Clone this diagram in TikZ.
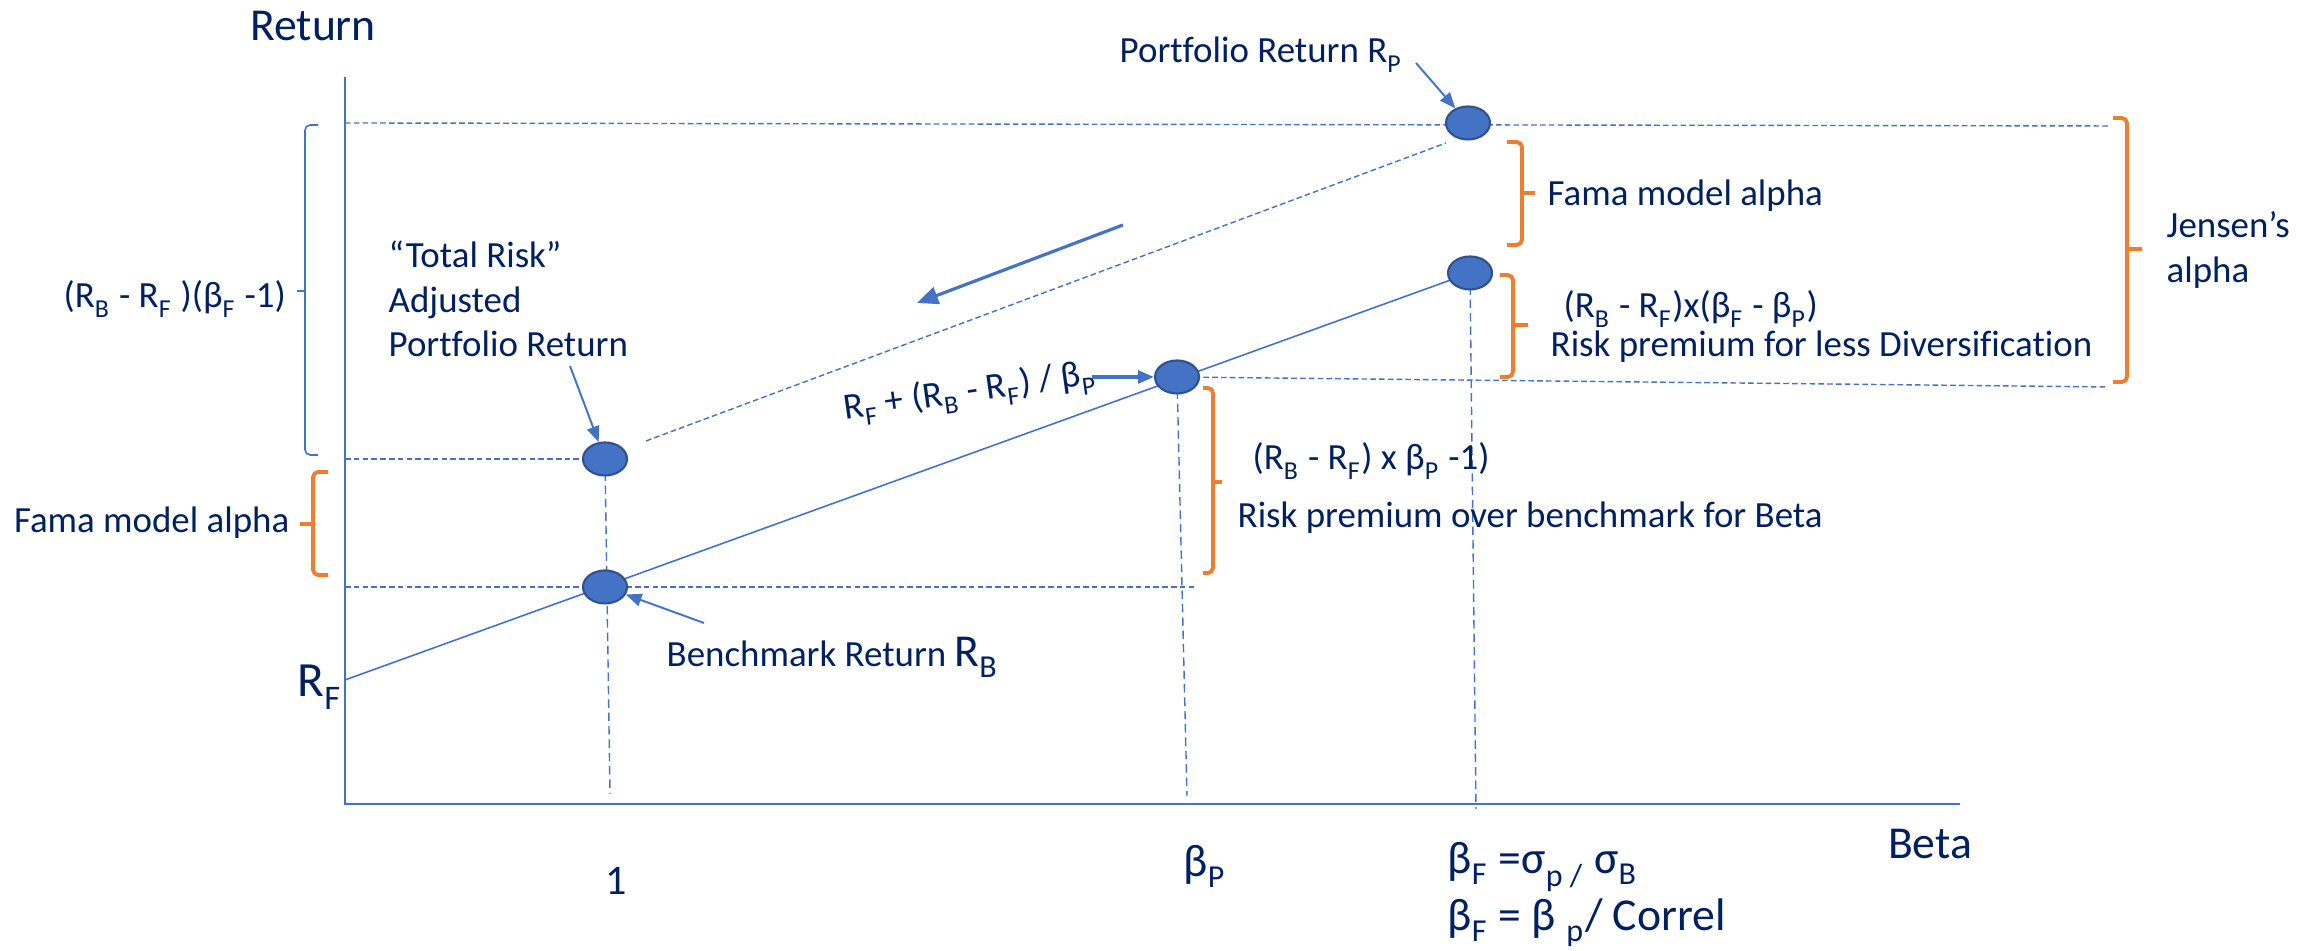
\documentclass[tikz,border=0pt]{standalone}
\usepackage{fontspec}
\setmainfont{Carlito}[Ligatures=NoCommon]
\usetikzlibrary{arrows.meta,shapes.geometric}

\definecolor{navy}{RGB}{0,32,96}
\definecolor{lineblue}{RGB}{68,114,196}
\definecolor{dotedge}{RGB}{47,82,143}
\definecolor{bracketorange}{RGB}{237,125,49}

% lowered subscript, as in the slide
\newcommand{\lo}[1]{\raisebox{-0.1em}{\textsubscript{#1}}}

\begin{document}
\begin{tikzpicture}[
    lbl/.style={text=navy, inner sep=0pt, font=\fontsize{10.5}{12.6}\selectfont},
    biglbl/.style={lbl, font=\fontsize{13}{15.6}\selectfont},
    dot/.style={ellipse, draw=dotedge, line width=0.6pt, fill=lineblue, minimum width=0.44cm, minimum height=0.33cm, inner sep=0pt},
    guide/.style={lineblue, line width=0.4pt, dash pattern=on 1.6pt off 0.9pt},
    vguide/.style={lineblue, line width=0.4pt, dash pattern=on 2.4pt off 1.4pt},
    sml/.style={lineblue, line width=0.45pt},
    pointer/.style={-{Triangle[length=4.5pt,width=3.6pt]}, lineblue, line width=0.55pt},
    bigarrow/.style={-{Triangle[length=6pt,width=5pt]}, lineblue, line width=0.9pt},
    obrace/.style={bracketorange, line width=1.1pt, rounded corners=1.5pt},
    bbrace/.style={lineblue, line width=0.45pt, rounded corners=1.5pt}
  ]
    \useasboundingbox (0,0) rectangle (23.18,9.51);

    % Axes
    \coordinate (o) at (3.45,1.47);
    \draw[lineblue, line width=0.6pt] (3.45,8.74) -- (o) -- (19.60,1.47);
    \node[biglbl, anchor=base] (ret) at (3.13,9.10) {Return};
    \node[biglbl, anchor=base] (beta) at (19.30,0.92) {Beta};

    % Point positions
    \coordinate (crp) at (14.68,8.28);
    \coordinate (cbf) at (14.70,6.78);
    \coordinate (cbp) at (11.77,5.74);
    \coordinate (ctrp) at (6.05,4.92);
    \coordinate (crb) at (6.05,3.64);
    \coordinate (rf) at (3.45,2.71);

    % Security market line
    \draw[sml] (rf) -- (cbf);

    % Horizontal guides
    \draw[guide] (crp -| o) -- (21.08,8.25);
    \draw[guide] (ctrp -| o) -- (ctrp);
    \draw[guide] (crb -| o) -- (11.95,3.64);
    \draw[guide] (cbp) -- (21.08,5.64);
    \draw[guide] (6.46,5.10) -- (14.46,8.08); % parallel line

    % Vertical guides
    \draw[vguide] (ctrp) -- (6.10,1.57);
    \draw[vguide] (cbp) -- (11.87,1.55);
    \draw[vguide] (cbf) -- (14.76,1.42);

    % Points
    \node[dot] (rp) at (crp) {};
    \node[dot] (bf) at (cbf) {};
    \node[dot] (bp) at (cbp) {};
    \node[dot] (trp) at (ctrp) {};
    \node[dot] (rb) at (crb) {};

    % Braces
    \draw[bbrace] (3.18,8.26) -- (3.05,8.26) -- (3.05,4.96) -- (3.18,4.96) (3.05,6.60) -- (2.97,6.60);
    \draw[obrace] (3.28,4.79) -- (3.13,4.79) -- (3.13,3.76) -- (3.28,3.76) (3.13,4.27) -- (3.00,4.27);
    \draw[obrace] (15.07,8.09) -- (15.22,8.09) -- (15.22,7.06) -- (15.07,7.06) (15.22,7.58) -- (15.35,7.58);
    \draw[obrace] (15.00,6.76) -- (15.13,6.76) -- (15.13,5.74) -- (15.00,5.74) (15.13,6.26) -- (15.28,6.26);
    \draw[obrace] (12.03,5.63) -- (12.13,5.63) -- (12.13,3.78) -- (12.03,3.78) (12.13,4.69) -- (12.22,4.69);
    \draw[obrace] (21.13,8.33) -- (21.27,8.33) -- (21.27,5.69) -- (21.13,5.69) (21.27,7.02) -- (21.42,7.02);

    % Portfolio return
    \node[lbl, anchor=base west] (rplbl) at (11.19,8.88) {Portfolio Return R\lo{P}};
    \coordinate (rptail) at (14.16,8.88);
    \draw[pointer] (rptail) -- (rp);

    % Total risk adjusted return
    \node[lbl, anchor=base west] (tr1) at (3.88,6.83) {“Total Risk”};
    \node[lbl, anchor=base west] (tr2) at (3.88,6.38) {Adjusted};
    \node[lbl, anchor=base west] (tr3) at (3.88,5.94) {Portfolio Return};
    \coordinate (trtail) at (5.70,5.85);
    \draw[pointer] (trtail) -- (trp);

    % Benchmark
    \node[lbl, anchor=base west] (rblbl) at (6.66,2.84) {Benchmark Return {\fontsize{13}{15}\selectfont R\lo{B}}};
    \coordinate (rbtail) at (7.04,3.28);
    \draw[pointer] (rbtail) -- (rb);

    % Slope label and arrows
    \node[lbl, rotate=8] (smllbl) at (9.70,5.58) {R\lo{F} + (R\lo{B} - R\lo{F}) / β\lo{P}};
    \coordinate (smltail) at (10.92,5.74);
    \draw[pointer, line width=0.9pt] (smltail) -- (bp);
    \coordinate (slide1) at (11.23,7.26);
    \coordinate (slide2) at (9.17,6.48);
    \draw[bigarrow] (slide1) -- (slide2);

    % Right labels
    \node[lbl, anchor=base west] (fama2) at (15.47,7.45) {Fama model alpha};
    \node[lbl, anchor=base west] (div1) at (15.63,6.33) {(R\lo{B} - R\lo{F})x(β\lo{F} - β\lo{P})};
    \node[lbl, anchor=base west] (div2) at (15.50,5.94) {Risk premium for less Diversification};
    \node[lbl, anchor=base west] (jen1) at (21.66,7.13) {Jensen’s};
    \node[lbl, anchor=base west] (jen2) at (21.66,6.68) {alpha};
    \node[lbl, anchor=base west] (bprem1) at (12.52,4.81) {(R\lo{B} - R\lo{F}) x β\lo{P} -1)};
    \node[lbl, anchor=base west] (bprem2) at (12.37,4.23) {Risk premium over benchmark for Beta};

    % Left labels
    \node[lbl, anchor=base west] (excess) at (0.63,6.43) {(R\lo{B} - R\lo{F} )(β\lo{F} -1)};
    \node[lbl, anchor=base east] (fama1) at (2.90,4.18) {Fama model alpha};

    % Axis labels
    \node[lbl, font=\fontsize{14}{16}\selectfont, anchor=base west] (rflbl) at (2.97,2.54) {R\lo{F}};
    \node[lbl, font=\fontsize{12}{14}\selectfont, anchor=base] (one) at (6.16,0.56) {1};
    \node[biglbl, anchor=base west] (bplbl) at (11.83,0.74) {β\lo{P}};
    \node[biglbl, anchor=base west] (bf1) at (14.47,0.77) {β\lo{F} =σ\lo{p /} σ\lo{B}};
    \node[biglbl, anchor=base west] (bf2) at (14.47,0.20) {β\lo{F} = β \lo{p}/ Correl};
\end{tikzpicture}
\end{document}
